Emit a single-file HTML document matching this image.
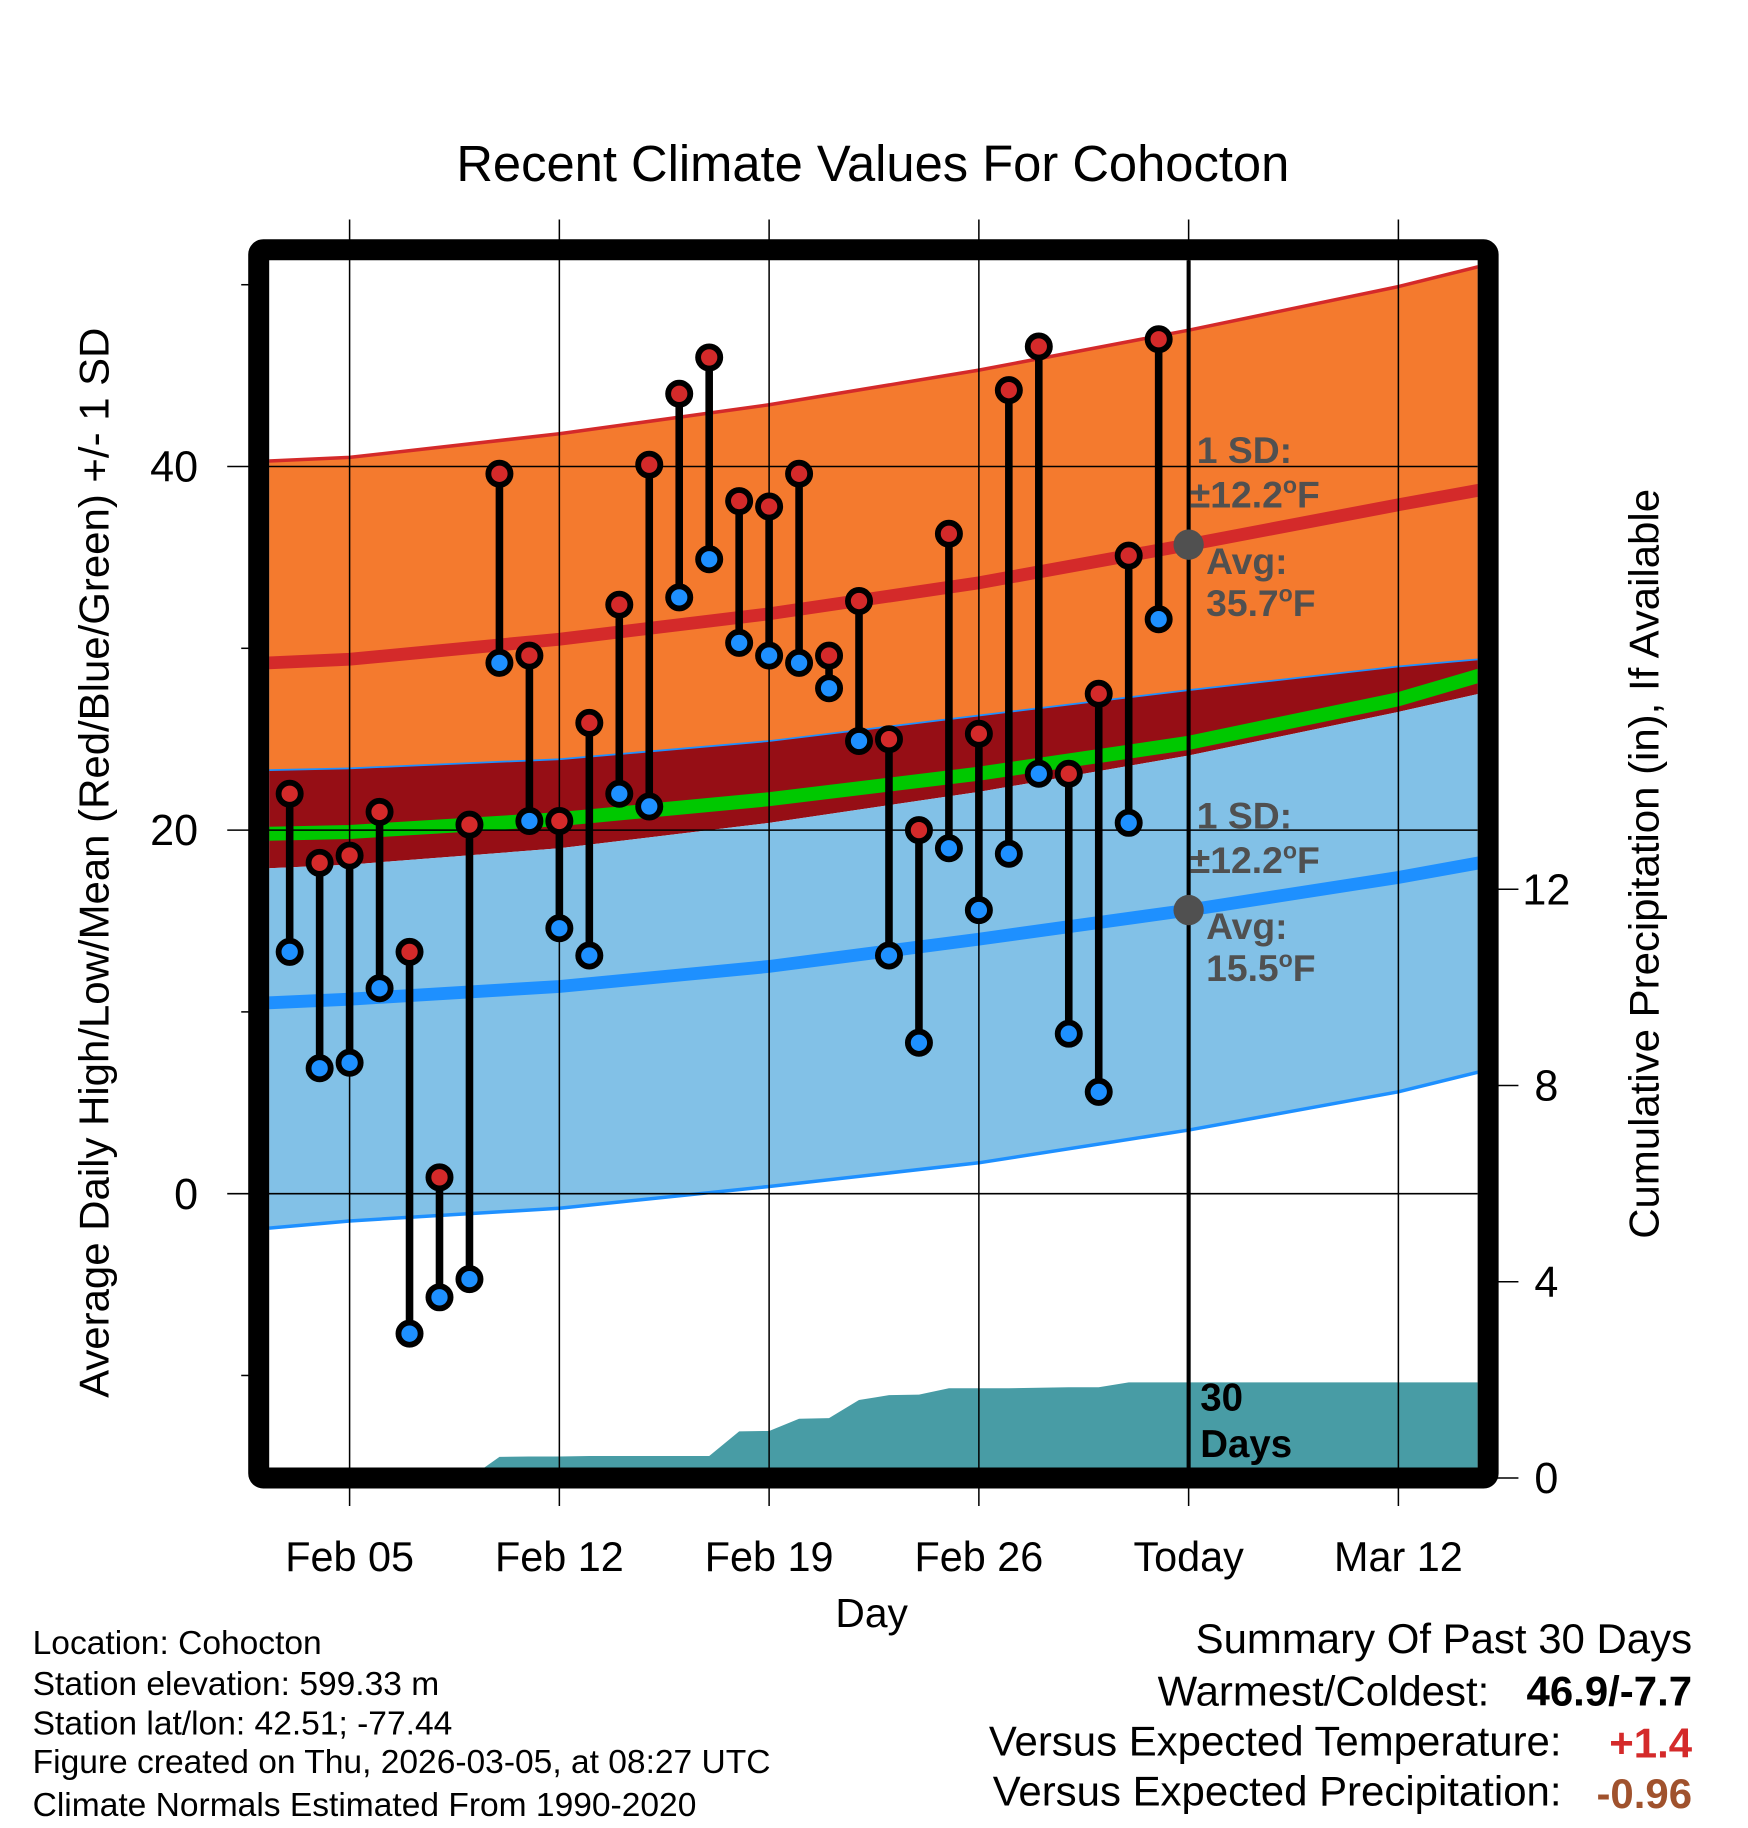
<!DOCTYPE html>
<html><head><meta charset="utf-8"><style>
html,body{margin:0;padding:0;background:#fff;}
svg{display:block;font-family:"Liberation Sans",Arial,sans-serif;}
</style></head><body>
<svg id="chart" width="1748" height="1828" viewBox="0 0 1500 1568" xmlns="http://www.w3.org/2000/svg">
<rect x="0" y="0" width="1500" height="1568" fill="#fff"/>
<defs><clipPath id="plotclip"><rect x="231" y="223" width="1037" height="1036"/></clipPath></defs>
<g id="bands" clip-path="url(#plotclip)"></g>
<g id="grid"></g>
<g id="marks"></g>
<g id="annot"></g>
<rect x="222" y="214" width="1055" height="1054" fill="none" stroke="#000" stroke-width="18" rx="4"/>
<g id="axes"></g>
<text x="749" y="155" font-size="43.5" text-anchor="middle">Recent Climate Values For Cohocton</text>
<text x="748" y="1396" font-size="35" text-anchor="middle">Day</text>
<text transform="translate(93,740) rotate(-90)" font-size="36" text-anchor="middle">Average Daily High/Low/Mean (Red/Blue/Green) +/- 1 SD</text>
<text transform="translate(1423,741) rotate(-90)" font-size="36" text-anchor="middle">Cumulative Precipitation (in), If Available</text>
<g font-size="28.8">
<text x="28" y="1419">Location: Cohocton</text>
<text x="28" y="1454">Station elevation: 599.33 m</text>
<text x="28" y="1488">Station lat/lon: 42.51; -77.44</text>
<text x="28" y="1521">Figure created on Thu, 2026-03-05, at 08:27 UTC</text>
<text x="28" y="1558">Climate Normals Estimated From 1990-2020</text>
</g>
<g font-size="36">
<text x="1452" y="1418" text-anchor="end">Summary Of Past 30 Days</text>
<text x="1278" y="1463" text-anchor="end">Warmest/Coldest:</text>
<text x="1452" y="1463" text-anchor="end" font-weight="bold">46.9/-7.7</text>
<text x="1340" y="1506" text-anchor="end">Versus Expected Temperature:</text>
<text x="1452" y="1508" text-anchor="end" font-weight="bold" fill="#d42a2a">+1.4</text>
<text x="1340" y="1549" text-anchor="end">Versus Expected Precipitation:</text>
<text x="1452" y="1551" text-anchor="end" font-weight="bold" fill="#a0522d">-0.96</text>
</g>
</svg>
<script>
// observation data (day of Feb; Mar 1 = day 29)
const days = [3,4,5,6,7,8,9,10,11,12,13,14,15,16,17,18,19,20,21,22,23,24,25,26,27,28,29,30,31,32];
const highs = [22.0,18.2,18.6,21.0,13.3,0.9,20.3,39.6,29.6,20.5,25.9,32.4,40.1,44.0,46.0,38.1,37.8,39.6,29.6,32.6,25.0,20.0,36.3,25.3,44.2,46.6,23.1,27.5,35.1,47.0];
const lows = [13.3,6.9,7.2,11.3,-7.7,-5.7,-4.7,29.2,20.5,14.6,13.1,22.0,21.3,32.8,34.9,30.3,29.6,29.2,27.8,24.9,13.1,8.3,19.0,15.6,18.7,23.1,8.8,5.6,20.4,31.6];
const precip = [0,0,0,0,0,0,0,0.43,0.44,0.44,0.45,0.45,0.45,0.45,0.45,0.95,0.96,1.21,1.22,1.59,1.69,1.70,1.83,1.83,1.83,1.84,1.85,1.85,1.95,1.95];
// normals
const normDays = [2.3,5,12,19,26,33,40,42.7];
const upperHigh = [40.3,40.5,41.8,43.4,45.3,47.5,49.9,51.0];
const meanHigh = [29.2,29.4,30.5,31.9,33.6,35.7,37.9,38.7];
const lowerOrange = [23.3,23.4,23.9,24.9,26.3,27.7,29.0,29.4];
const meanAvg = [19.8,19.9,20.6,21.7,23.1,24.8,27.2,28.5];
const upperLow = [17.9,18.1,19.0,20.4,22.1,24.1,26.5,27.5];
const meanLow = [10.5,10.7,11.4,12.5,14.0,15.6,17.4,18.2];
const lowerLow = [-1.9,-1.5,-0.8,0.4,1.7,3.5,5.6,6.7];
const xTickDays = [5,12,19,26,33,40];
const xTickLabels = ["Feb 05","Feb 12","Feb 19","Feb 26","Today","Mar 12"];
const yTicks = [0,20,40];
const yMinor = [-10,10,30,50];
const y2Ticks = [0,4,8,12];

const NS="http://www.w3.org/2000/svg";
const X = d => 300 + (d-5)*25.714;
const Y = v => 1024 - 15.6*v;
const Y2 = p => 1268 - 42.1*p;
function mk(tag, attrs, parent){const e=document.createElementNS(NS,tag);for(const k in attrs)e.setAttribute(k,attrs[k]);parent.appendChild(e);return e;}
const bands=document.getElementById('bands'),grid=document.getElementById('grid'),marks=document.getElementById('marks'),annot=document.getElementById('annot'),axes=document.getElementById('axes');

function linePts(arr){return normDays.map((d,i)=>X(d).toFixed(1)+','+Y(arr[i]).toFixed(1));}
function band(top,bot,fill,name){
  const pts=linePts(top).concat(linePts(bot).reverse());
  const p=mk('polygon',{points:pts.join(' '),fill:fill},bands);
  
  
}
band(upperHigh,lowerOrange,'#f47a2e','high-sd-band');
band(lowerOrange,upperLow,'#960e15','overlap-band');
band(upperLow,lowerLow,'#82c1e7','low-sd-band');
function curve(arr,color,w,name){
  const p=mk('polyline',{points:linePts(arr).join(' '),fill:'none',stroke:color,'stroke-width':w},bands);
  
  
}
curve(upperHigh,'#d42a2a',3,'high-upper-sd-line');
curve(meanHigh,'#d42a2a',11,'mean-high-line');
curve(lowerOrange,'#1e90ff',1.5,'high-lower-sd-line');
curve(meanAvg,'#00c800',12,'mean-avg-line');
curve(meanLow,'#1e90ff',11,'mean-low-line');
curve(lowerLow,'#1e90ff',3,'low-lower-sd-line');

// precipitation area
{
  const pts=[X(2.3).toFixed(1)+','+Y2(0)];
  days.forEach((d,i)=>pts.push(X(d).toFixed(1)+','+Y2(precip[i]).toFixed(1)));
  pts.push(X(42.7).toFixed(1)+','+Y2(precip[precip.length-1]).toFixed(1));
  pts.push(X(42.7).toFixed(1)+','+Y2(0));
  const p=mk('polygon',{points:pts.join(' '),fill:'#489ca5'},bands);
  
  
}

// grid
xTickDays.forEach((d,i)=>{
  const l=mk('line',{x1:X(d),x2:X(d),y1:188,y2:1292,stroke:'#000','stroke-width':1.3},grid);
  
  
  const t=mk('text',{x:X(d),y:1348,'font-size':35.5,'text-anchor':'middle'},axes);
  t.textContent=xTickLabels[i];
  
  
});
yTicks.forEach(v=>{
  const l=mk('line',{x1:195,x2:1268,y1:Y(v),y2:Y(v),stroke:'#000','stroke-width':1.3},grid);
  
  
  const t=mk('text',{x:170,y:Y(v)+13,'font-size':37,'text-anchor':'end'},axes);
  t.textContent=v;
  
  
});
yMinor.forEach(v=>{
  const l=mk('line',{x1:207,x2:216,y1:Y(v),y2:Y(v),stroke:'#000','stroke-width':1.3},axes);
  
  
});
y2Ticks.forEach(p=>{
  const l=mk('line',{x1:1283,x2:1303,y1:Y2(p),y2:Y2(p),stroke:'#000','stroke-width':1.3},axes);
  
  
  const t=mk('text',{x:1327,y:Y2(p)+13,'font-size':37,'text-anchor':'middle'},axes);
  t.textContent=p;
  
  
});
{
  const l=mk('line',{x1:X(33),x2:X(33),y1:223,y2:1260,stroke:'#000','stroke-width':3.5},grid);
  
  
}

// observation marks
days.forEach((d,i)=>{
  const g=mk('g',{},marks);
  
  
  mk('line',{x1:X(d),x2:X(d),y1:Y(highs[i]),y2:Y(lows[i]),stroke:'#000','stroke-width':6.5},g);
  const h=mk('circle',{cx:X(d),cy:Y(highs[i]),r:9.5,fill:'#d42a2a',stroke:'#000','stroke-width':5},g);
  
  
  const lo=mk('circle',{cx:X(d),cy:Y(lows[i]),r:9.5,fill:'#1e90ff',stroke:'#000','stroke-width':5},g);
  
  
});

// annotations
function txt(x,y,s,size,fill,name,deg){
  const t=mk('text',{x:x,y:y,'font-size':size,'font-weight':'bold',fill:fill},annot);
  t.appendChild(document.createTextNode(s));
  if(deg){
    const sp=mk('tspan',{'font-size':size*0.62,dy:-size*0.38},t);
    sp.textContent='o';
    const f=mk('tspan',{dy:size*0.38},t);
    f.textContent='F';
  }
  
  
}
const todayHigh = meanHigh[5], todayLow = meanLow[5];
[[todayHigh,'35.7'],[todayLow,'15.5']].forEach(([v,s],k)=>{
  const c=mk('circle',{cx:X(33),cy:Y(v),r:13,fill:'#505050'},annot);
  
  
  const y0=Y(v);
  txt(1027,y0-70,'1 SD:',32,'#505050','sd-label');
  txt(1021,y0-32,'±12.2',32,'#505050','sd-value',true);
  txt(1035,y0+25,'Avg:',32,'#505050','avg-label');
  txt(1035,y0+61,s,32,'#505050','avg-value',true);
});
txt(1030,1210,'30',33,'#000','days-label');
txt(1030,1250,'Days',33,'#000','days-label');
</script>
</body></html>
